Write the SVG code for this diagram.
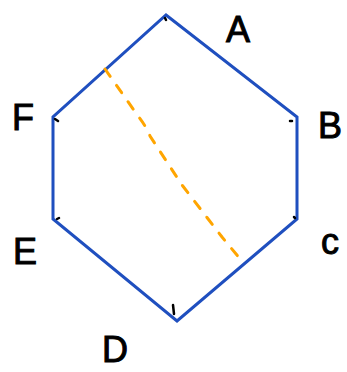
<svg xmlns="http://www.w3.org/2000/svg" width="347" height="372" viewBox="0 0 347 372">
<style>
.edge{fill:none;stroke:#1f4fbf;stroke-width:3;stroke-linejoin:miter}
.diag{fill:none;stroke:#ffa500;stroke-width:3;stroke-linecap:round;stroke-dasharray:9 11}
.tick{fill:none;stroke:#000;stroke-width:2.5;stroke-linecap:round}
.lbl{font-family:"Liberation Sans",Arial,sans-serif;font-size:36px;fill:#000;stroke:#000;stroke-width:1;text-anchor:middle}
</style>
<rect width="347" height="372" fill="#fff"/>
<g id="connectors">
<polygon class="edge" points="166,15 297,117 297,219 177,321 53,219 53,117"/>
<path class="diag" d="M105,69 L138,116 Q146,126 150,136 L182,185 L222,237 L241,260"/>
</g>
<g id="ticks">
<path class="tick" d="M165,18 L166,20"/>
<path class="tick" d="M55,119 L58,121"/>
<path class="tick" d="M290,121 L292,121"/>
<path class="tick" d="M294,217 L295,218"/>
<path class="tick" d="M57,219 L59,218"/>
<path class="tick" d="M173,305 L174,314"/>
</g>
<g id="A"><text class="lbl" x="238" y="42">A</text></g>
<g id="B"><text class="lbl" x="330" y="138">B</text></g>
<g id="C"><text class="lbl" x="330" y="254">c</text></g>
<g id="D"><text class="lbl" x="115" y="362">D</text></g>
<g id="E"><text class="lbl" x="25" y="264">E</text></g>
<g id="F"><text class="lbl" x="23" y="130">F</text></g>
</svg>
